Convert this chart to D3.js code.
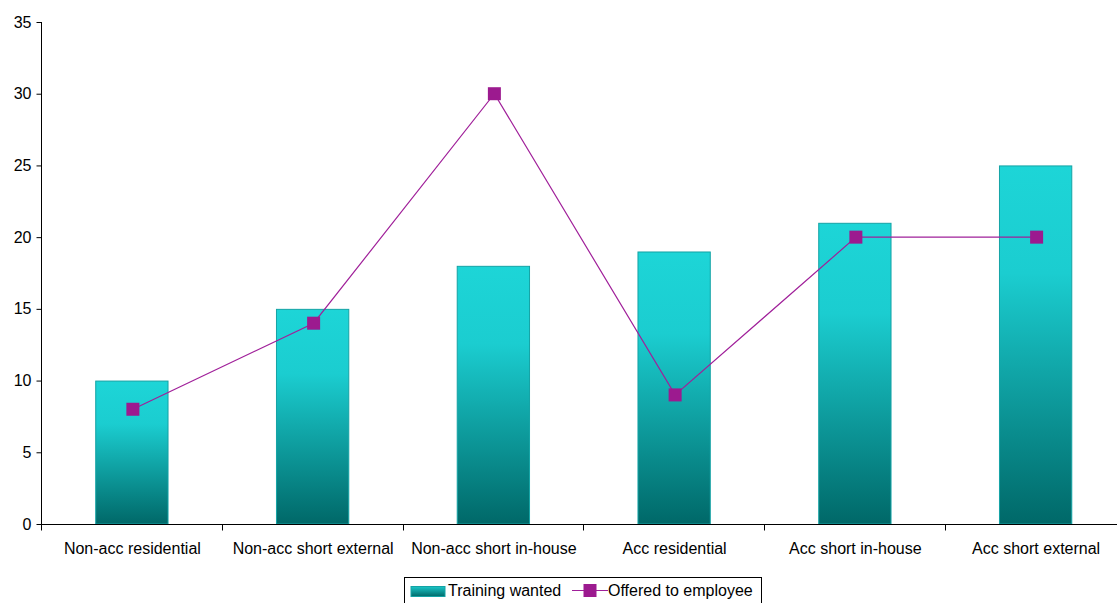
<!DOCTYPE html>
<html><head><meta charset="utf-8">
<script src="https://cdn.jsdelivr.net/npm/d3@7"></script>
<style>body{margin:0;background:#fff}svg{display:block;font-family:"Liberation Sans",Arial,sans-serif}</style>
</head><body><svg id="c" width="1117" height="603"></svg>
<script>
const categories = ["Non-acc residential","Non-acc short external","Non-acc short in-house","Acc residential","Acc short in-house","Acc short external"];
const trainingWanted = [10,15,18,19,21,25];
const offeredToEmployee = [8,14,30,9,20,20];
const yTicks = [0,5,10,15,20,25,30,35];
const seriesNames = ["Training wanted","Offered to employee"];

const svg = d3.select("#c");
const pLeft = 41, pRight = 1125.5, pTop = 22, pBottom = 524;
const x = d3.scaleBand().domain(categories).range([pLeft, pRight]).paddingInner(0.6).paddingOuter(0.3);
const xOuter = d3.scaleBand().domain(categories).range([pLeft, pRight]);
const y = d3.scaleLinear().domain([0,35]).range([pBottom, pTop]);

const defs = svg.append("defs");
const g = defs.append("linearGradient").attr("id","barGrad").attr("x1",0).attr("y1",0).attr("x2",0).attr("y2",1);
g.append("stop").attr("offset","0").attr("stop-color","#1dd5d7");
g.append("stop").attr("offset","0.3").attr("stop-color","#1bcdd0");
g.append("stop").attr("offset","1").attr("stop-color","#006868");
const lg = defs.append("linearGradient").attr("id","legGrad").attr("x1",0).attr("y1",0).attr("x2",0).attr("y2",1);
lg.append("stop").attr("offset","0").attr("stop-color","#1bc6c8");
lg.append("stop").attr("offset","1").attr("stop-color","#006a6a");

// bars
svg.append("g").selectAll("rect").data(trainingWanted).join("rect")
  .attr("x",(d,i)=>x(categories[i])+0.5)
  .attr("y",d=>y(d)+0.5)
  .attr("width",x.bandwidth())
  .attr("height",d=>pBottom-y(d)-0.5)
  .attr("fill","url(#barGrad)")
  .attr("stroke","#14a3a5").attr("stroke-width",1);

// y axis
const yAxis = d3.axisLeft(y).tickValues(yTicks).tickSize(5).tickPadding(5);
const ya = svg.append("g").attr("transform",`translate(${pLeft+0.5},0)`).call(yAxis);
ya.select(".domain").attr("stroke","#000").attr("d",`M0,${pTop}V${pBottom}`);
ya.selectAll("text").attr("font-size",16).attr("fill","#000").attr("font-family","Liberation Sans, Arial, sans-serif");
ya.selectAll("line").attr("stroke","#000");

// x axis
const xa = svg.append("g").attr("transform",`translate(0,${pBottom+0.5})`);
xa.append("line").attr("x1",pLeft).attr("x2",1117).attr("stroke","#000");
xa.selectAll("line.t").data(categories).join("line").attr("class","t")
  .attr("x1",d=>Math.round(xOuter(d))+0.5).attr("x2",d=>Math.round(xOuter(d))+0.5)
  .attr("y1",0).attr("y2",6).attr("stroke","#000");
xa.selectAll("text").data(categories).join("text")
  .attr("x",d=>xOuter(d)+xOuter.bandwidth()/2+1).attr("y",29)
  .attr("text-anchor","middle").attr("font-size",16).attr("fill","#000").text(d=>d);

// line
const cx = (d,i)=>x(categories[i])+x.bandwidth()/2+1.5;
svg.append("path").datum(offeredToEmployee)
  .attr("d",d3.line().x(cx).y(d=>y(d)))
  .attr("fill","none").attr("stroke","#a0209a").attr("stroke-width",1.2);
svg.append("g").selectAll("rect").data(offeredToEmployee).join("rect")
  .attr("x",(d,i)=>cx(d,i)-6.5).attr("y",d=>y(d)-6.5)
  .attr("width",13).attr("height",13).attr("fill","#9c1a8f");

// legend
const leg = svg.append("g");
leg.append("rect").attr("x",404.5).attr("y",577.5).attr("width",357).attr("height",40)
  .attr("fill","#fff").attr("stroke","#000");
leg.append("rect").attr("x",411).attr("y",586.5).attr("width",34).attr("height",10)
  .attr("fill","url(#legGrad)").attr("stroke","#14a3a5");
leg.append("text").attr("x",448).attr("y",596).attr("font-size",16).text(seriesNames[0]);
leg.append("line").attr("x1",572).attr("x2",608).attr("y1",590.5).attr("y2",590.5).attr("stroke","#a0209a").attr("stroke-width",1.2);
leg.append("rect").attr("x",583.5).attr("y",584).attr("width",13).attr("height",13).attr("fill","#9c1a8f");
leg.append("text").attr("x",608).attr("y",596).attr("font-size",16).text(seriesNames[1]);
</script></body></html>
